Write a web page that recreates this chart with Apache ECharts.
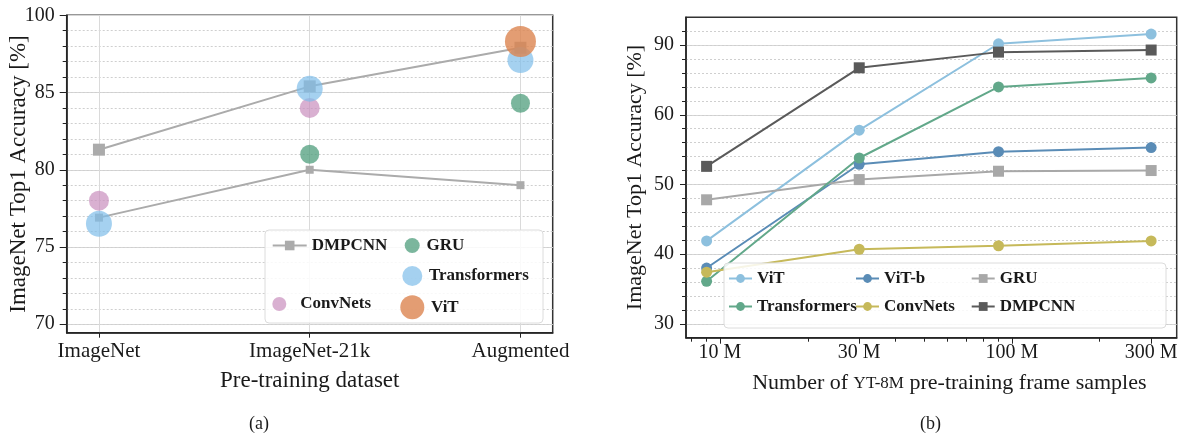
<!DOCTYPE html>
<html>
<head>
<meta charset="utf-8">
<script src="https://cdn.jsdelivr.net/npm/echarts@6/dist/echarts.min.js"></script>
<style>
  html, body { margin: 0; padding: 0; background: #fff; }
  #wrap { position: relative; width: 1184px; height: 435px; }
  #chartA { position: absolute; left: 0; top: 0; width: 592px; height: 435px; }
  #chartB { position: absolute; left: 592px; top: 0; width: 592px; height: 435px; }
</style>
</head>
<body>
<div id="wrap"><div id="chartA"></div><div id="chartB"></div></div>
<script>
// ---------- (a) accuracy by pre-training dataset ----------
const datasetsA = ['ImageNet', 'ImageNet-21k', 'Augmented'];
const yTicksA = [70, 75, 80, 85, 90];
const yTickLabelsA = ['70', '75', '80', '85', '100'];
const dmpcnnUpperA = [81.3, 85.4, 87.9];
const dmpcnnLowerA = [76.9, 80.0, 79.0];
const convNetsA = [78.0, 84.0, null];
const transformersA = [76.5, 85.25, 87.1];
const gruA = [null, 81.0, 84.3];
const vitA = [null, null, 88.3];

// ---------- (b) accuracy by number of YT-8M frames ----------
const framesB = [9, 30, 90, 300];            // millions of frames
const xTicksB = [10, 30, 100, 300];
const xTickLabelsB = ['10 M', '30 M', '100 M', '300 M'];
const xMinorTicksB = [8, 9, 20, 40, 50, 60, 70, 80, 90, 200];
const yTicksB = [30, 40, 50, 60, 70];
const yTickLabelsB = ['30', '40', '50', '60', '90'];
const vitB = [41.9, 57.8, 70.2, 71.6];
const vitbB = [38.0, 52.9, 54.7, 55.3];
const transformersB = [36.1, 53.8, 64.0, 65.3];
const convNetsB = [37.4, 40.7, 41.2, 41.9];
const gruB = [47.8, 50.7, 51.9, 52.0];
const dmpcnnB = [52.6, 66.75, 69.0, 69.3];

const SERIF = '"Liberation Serif", "Times New Roman", "DejaVu Serif", serif';
const INK = '#1a1a1a';

function labelFor(ticks, labels) {
  return function (v) {
    for (let i = 0; i < ticks.length; i++) if (Math.abs(ticks[i] - v) < 1e-6) return labels[i];
    return '';
  };
}
function range(a, b, step) {
  const out = [];
  for (let v = a; v <= b + 1e-9; v += step) out.push(+v.toFixed(6));
  return out;
}
const pairs = (xs, ys) => ys.map((y, i) => (y == null ? null : [xs[i], y])).filter(Boolean);
const idx = datasetsA.map((_, i) => i);

// ================= chart (a) =================
const chartA = echarts.init(document.getElementById('chartA'), null, { renderer: 'canvas' });
const legendText = { fontFamily: SERIF, fontSize: 17, fontWeight: 'bold', color: INK };
function legendA(name, left, centerY, w, h) {
  return {
    data: [name], left: left, top: centerY - 9, padding: 0, itemWidth: w, itemHeight: h,
    selectedMode: false, textStyle: legendText, z: 20
  };
}
const minorA = range(70, 89, 1);

chartA.setOption({
  backgroundColor: '#fff',
  animation: false,
  title: { text: '(a)', left: 244, top: 410, textStyle: { fontFamily: SERIF, fontSize: 18, fontWeight: 'normal', color: INK } },
  grid: { left: 66.7, top: 15.3, width: 486, height: 317.4, outerBoundsMode: 'none', containLabel: false, show: true, borderColor: '#333', borderWidth: 1.5, backgroundColor: '#fff' },
  xAxis: {
    type: 'value', min: -0.153, max: 2.153, position: 'bottom',
    axisLine: { show: true, onZero: false, lineStyle: { color: '#222', width: 1.5 } },
    axisTick: { show: true, customValues: idx, length: 5, lineStyle: { color: '#222' } },
    axisLabel: { customValues: idx, formatter: v => datasetsA[Math.round(v)], fontFamily: SERIF, fontSize: 21, color: INK, margin: 8 },
    splitLine: { show: true, lineStyle: { color: '#dadada', width: 1 } },
    name: 'Pre-training dataset', nameLocation: 'middle', nameGap: 37, nameMoveOverlap: false,
    nameTextStyle: { fontFamily: SERIF, fontSize: 23, color: INK }
  },
  yAxis: [
    {
      type: 'value', min: 69.45, max: 90, position: 'left',
      axisLine: { show: true, onZero: false, lineStyle: { color: '#222', width: 1.5 } },
      axisTick: { show: true, customValues: yTicksA, length: 7, lineStyle: { color: '#222' } },
      axisLabel: { customValues: yTicksA, formatter: labelFor(yTicksA, yTickLabelsA), fontFamily: SERIF, fontSize: 20, color: INK, margin: 12 },
      splitLine: { show: true, lineStyle: { color: '#d6d6d6', width: 1 } },
      name: 'ImageNet Top1 Accuracy [%]', nameLocation: 'middle', nameGap: 36, nameMoveOverlap: false,
      nameTextStyle: { fontFamily: SERIF, fontSize: 23, color: INK }
    },
    {
      type: 'value', min: 69.45, max: 90, position: 'left',
      axisLine: { show: false, onZero: false },
      axisTick: { show: true, customValues: minorA, length: 4, lineStyle: { color: '#222' } },
      axisLabel: { show: false, customValues: minorA },
      splitLine: { show: true, lineStyle: { color: '#cfcfcf', width: 1, type: [2, 2] } }
    }
  ],
  legend: [
    legendA('DMPCNN', 271.7, 246, 34, 12),
    legendA('GRU', 414 - 9.3, 246, 18.6, 15),
    legendA('Transformers', 414 - 11.7, 275, 23.4, 20),
    legendA('ConvNets', 288.3 - 16, 304.5, 32, 14),
    legendA('ViT', 414 - 13.7, 304.3, 27.4, 24)
  ],
  graphic: [{
    type: 'rect', z: 15, silent: true,
    shape: { x: 265, y: 230, width: 278, height: 93, r: 4 },
    style: { fill: 'rgba(255,255,255,0.85)', stroke: '#dcdcdc', lineWidth: 1 }
  }],
  series: [
    // band between the two DMPCNN curves
    { type: 'line', name: 'band-base', stack: 'band', data: pairs(idx, dmpcnnLowerA), symbol: 'none', lineStyle: { opacity: 0 }, silent: true, z: 1 },
    { type: 'line', name: 'band-fill', stack: 'band', data: pairs(idx, dmpcnnUpperA.map((u, i) => u - dmpcnnLowerA[i])), symbol: 'none', lineStyle: { opacity: 0 }, areaStyle: { color: 'rgba(0,0,0,0.05)' }, silent: true, z: 1 },
    { type: 'line', name: 'DMPCNN', data: pairs(idx, dmpcnnUpperA), symbol: 'rect', symbolSize: 12, itemStyle: { color: '#ababab' }, lineStyle: { color: '#ababab', width: 2 }, z: 2 },
    { type: 'line', name: 'DMPCNN', data: pairs(idx, dmpcnnLowerA), symbol: 'rect', symbolSize: 8, itemStyle: { color: '#ababab' }, lineStyle: { color: '#ababab', width: 2 }, z: 2 },
    { type: 'scatter', name: 'GRU', data: pairs(idx, gruA), symbol: 'circle', symbolSize: 19, itemStyle: { color: '#4f9e7c', opacity: 0.75 }, z: 3 },
    { type: 'scatter', name: 'ConvNets', data: pairs(idx, convNetsA), symbol: 'circle', symbolSize: 20, itemStyle: { color: '#c98fbd', opacity: 0.7 }, z: 3 },
    { type: 'scatter', name: 'Transformers', data: pairs(idx, transformersA), symbol: 'circle', symbolSize: 26, itemStyle: { color: '#7fbde9', opacity: 0.7 }, z: 3 },
    { type: 'scatter', name: 'ViT', data: pairs(idx, vitA), symbol: 'circle', symbolSize: 31, itemStyle: { color: '#dc8550', opacity: 0.8 }, z: 3 }
  ]
});

// ================= chart (b) =================
const chartB = echarts.init(document.getElementById('chartB'), null, { renderer: 'canvas' });
const lgX = framesB.map(v => Math.log10(v));
const minorB = range(30, 72, 2);
function legendB(names, left) {
  return {
    data: names, orient: 'vertical', left: left, top: 279 - 9, padding: 0, itemGap: 11,
    itemWidth: 23, itemHeight: 11, selectedMode: false, textStyle: legendText, z: 20
  };
}
function lineSeries(name, ys, color, symbol) {
  return {
    type: 'line', name: name, data: pairs(lgX, ys), symbol: symbol, symbolSize: 11,
    itemStyle: { color: color }, lineStyle: { color: color, width: 2 }, z: 3
  };
}

chartB.setOption({
  backgroundColor: '#fff',
  animation: false,
  title: { text: '(b)', left: 323, top: 410, textStyle: { fontFamily: SERIF, fontSize: 18, fontWeight: 'normal', color: INK } },
  grid: { left: 94, top: 17.3, width: 490.7, height: 320.4, outerBoundsMode: 'none', containLabel: false, show: true, borderColor: '#333', borderWidth: 1.5, backgroundColor: '#fff' },
  xAxis: [
    {
      type: 'value', min: Math.log10(7.65), max: Math.log10(367), position: 'bottom',
      axisLine: { show: true, onZero: false, lineStyle: { color: '#222', width: 1.5 } },
      axisTick: { show: true, customValues: xTicksB.map(Math.log10), length: 6, lineStyle: { color: '#222' } },
      axisLabel: { customValues: xTicksB.map(Math.log10), formatter: labelFor(xTicksB.map(Math.log10), xTickLabelsB), fontFamily: SERIF, fontSize: 20, color: INK, margin: 5 },
      splitLine: { show: false },
      name: 'Number of {s|YT-8M} pre-training frame samples', nameLocation: 'middle', nameGap: 35, nameMoveOverlap: false,
      nameTextStyle: { fontFamily: SERIF, fontSize: 22, color: INK, padding: [0, 0, 0, 36], rich: { s: { fontFamily: SERIF, fontSize: 17, color: INK } } }
    },
    {
      type: 'value', min: Math.log10(7.65), max: Math.log10(367), position: 'bottom',
      axisLine: { show: false, onZero: false },
      axisTick: { show: true, customValues: xMinorTicksB.map(Math.log10), length: 4, lineStyle: { color: '#222' } },
      axisLabel: { show: false, customValues: xMinorTicksB.map(Math.log10) },
      splitLine: { show: false }
    }
  ],
  yAxis: [
    {
      type: 'value', min: 28, max: 74, position: 'left',
      axisLine: { show: true, onZero: false, lineStyle: { color: '#222', width: 1.5 } },
      axisTick: { show: true, customValues: yTicksB, length: 6, lineStyle: { color: '#222' } },
      axisLabel: { customValues: yTicksB, formatter: labelFor(yTicksB, yTickLabelsB), fontFamily: SERIF, fontSize: 20, color: INK, margin: 12 },
      splitLine: { show: true, lineStyle: { color: '#d6d6d6', width: 1 } },
      name: 'ImageNet Top1 Accuracy [%]', nameLocation: 'middle', nameGap: 40, nameMoveOverlap: false,
      nameTextStyle: { fontFamily: SERIF, fontSize: 22, color: INK }
    },
    {
      type: 'value', min: 28, max: 74, position: 'left',
      axisLine: { show: false, onZero: false },
      axisTick: { show: true, customValues: minorB, length: 4, lineStyle: { color: '#222' } },
      axisLabel: { show: false, customValues: minorB },
      splitLine: { show: true, lineStyle: { color: '#cfcfcf', width: 1, type: [2, 2] } }
    }
  ],
  legend: [
    legendB(['ViT', 'Transformers'], 136),
    legendB(['ViT-b', 'ConvNets'], 263),
    legendB(['GRU', 'DMPCNN'], 378.7)
  ],
  graphic: [{
    type: 'rect', z: 15, silent: true,
    shape: { x: 132, y: 263, width: 442, height: 65, r: 4 },
    style: { fill: 'rgba(255,255,255,0.85)', stroke: '#dcdcdc', lineWidth: 1 }
  }],
  series: [
    lineSeries('ViT', vitB, '#8dc0de', 'circle'),
    lineSeries('ViT-b', vitbB, '#5a8cb6', 'circle'),
    lineSeries('GRU', gruB, '#a8a8a8', 'rect'),
    lineSeries('Transformers', transformersB, '#62a88a', 'circle'),
    lineSeries('ConvNets', convNetsB, '#c6b95a', 'circle'),
    lineSeries('DMPCNN', dmpcnnB, '#5a5a5a', 'rect')
  ]
});
</script>
</body>
</html>
